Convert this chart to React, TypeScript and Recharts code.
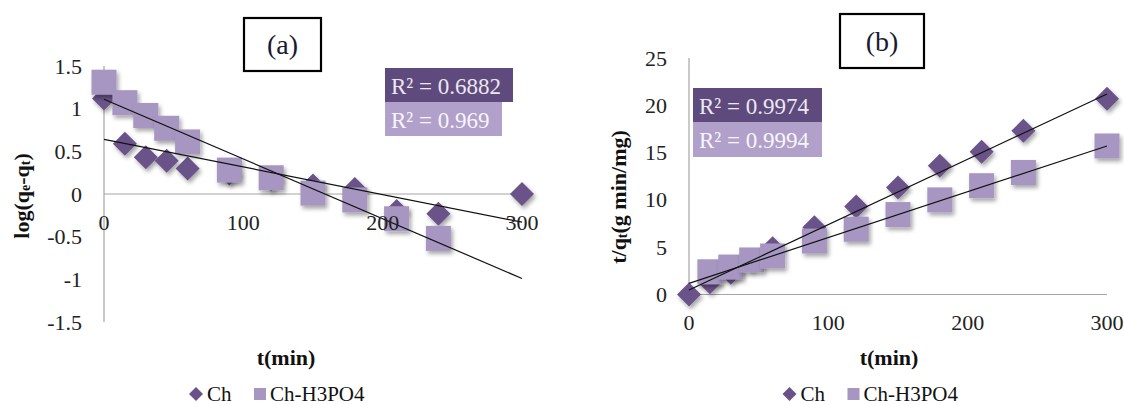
import React from 'react';
import { ScatterChart, Scatter, XAxis, YAxis, ReferenceLine } from 'recharts';

// ---- data ----
const timesCh = [0, 15, 30, 45, 60, 90, 120, 150, 180, 210, 240, 300];
const timesLogH3 = [0, 15, 30, 45, 60, 90, 120, 150, 180, 210, 240];
const timesRateH3 = [15, 30, 45, 60, 90, 120, 150, 180, 210, 240, 300];

// pseudo-first-order: log(qe - qt)
const logCh = [1.12, 0.59, 0.43, 0.39, 0.3, 0.24, 0.17, 0.1, 0.06, -0.2, -0.23, 0.0];
const logH3 = [1.31, 1.07, 0.92, 0.77, 0.61, 0.28, 0.19, 0.01, -0.07, -0.29, -0.52];

// pseudo-second-order: t/qt
const rateCh = [0, 1.3, 2.3, 3.6, 4.9, 7.1, 9.3, 11.3, 13.6, 15.1, 17.3, 20.7];
const rateH3 = [2.4, 2.9, 3.65, 4.07, 5.65, 6.9, 8.45, 10.0, 11.5, 12.9, 15.7];

// linear trendline end points
const trendLogCh = [{ t: 0, v: 0.64 }, { t: 300, v: -0.33 }];
const trendLogH3 = [{ t: 0, v: 1.11 }, { t: 300, v: -0.99 }];
const trendRateCh = [{ t: 0, v: 0.48 }, { t: 300, v: 21.2 }];
const trendRateH3 = [{ t: 0, v: 1.18 }, { t: 300, v: 15.7 }];

const xTicks = [0, 100, 200, 300];
const logTicks = [-1.5, -1, -0.5, 0, 0.5, 1, 1.5];
const rateTicks = [0, 5, 10, 15, 20, 25];

const seriesNames = ['Ch', 'Ch-H3PO4'];
const r2Log = ['0.6882', '0.969'];
const r2Rate = ['0.9974', '0.9994'];
const panelTitles = ['(a)', '(b)'];

// ---- styles ----
const CH_COLOR = '#6a5289';
const H3_COLOR = '#a696c1';
const BOX_DARK = '#5f4a7d';
const BOX_LIGHT = '#b1a0c9';
const AXIS = '#a6a6a6';
const FONT = '"Liberation Serif", "Times New Roman", serif';
const TICK_FS = 22;

const toPts = (ts: number[], vs: number[]) => ts.map((t, i) => ({ t, v: vs[i] }));

const diamondShape = (p: any) => {
  const { cx, cy } = p;
  const r = 12;
  return (
    <polygon
      points={`${cx},${cy - r} ${cx + r},${cy} ${cx},${cy + r} ${cx - r},${cy}`}
      fill={CH_COLOR}
      filter="url(#mkShadow)"
    />
  );
};

const squareShape = (p: any) => {
  const { cx, cy } = p;
  const h = 12.5;
  return <rect x={cx - h} y={cy - h} width={2 * h} height={2 * h} fill={H3_COLOR} filter="url(#mkShadow)" />;
};

const noShape = () => <g />;

const yTick = (p: any) => (
  <text x={p.x - 22} y={p.y} textAnchor="end" dominantBaseline="central" fontFamily={FONT} fontSize={TICK_FS} fill="#222">
    {p.payload.value}
  </text>
);

// plot area geometry
const A = { top: 66, height: 256, left: 104, right: 522 };
const B = { top: 58, height: 236.5, left: 129, right: 547 };

// the (a) x labels sit just below the y = 0 line (middle of the symmetric domain)
const logXTick = (p: any) => (
  <text x={p.x} y={p.y - A.height / 2 + 28} textAnchor="middle" dominantBaseline="central" fontFamily={FONT} fontSize={TICK_FS} fill="#222">
    {p.payload.value}
  </text>
);

const rateXTick = (p: any) => (
  <text x={p.x} y={p.y + 27.5} textAnchor="middle" dominantBaseline="central" fontFamily={FONT} fontSize={TICK_FS} fill="#222">
    {p.payload.value}
  </text>
);

function LogChart() {
  return (
    <ScatterChart
      width={560}
      height={405}
      margin={{ top: A.top, right: 560 - A.right, bottom: 405 - A.top - A.height - 30, left: 0 }}
    >
      <XAxis
        type="number"
        dataKey="t"
        domain={[0, 300]}
        ticks={xTicks}
        interval={0}
        height={30}
        axisLine={false}
        tickLine={false}
        tickSize={0}
        tickMargin={0}
        tick={logXTick}
      />
      <YAxis
        type="number"
        dataKey="v"
        domain={[-1.5, 1.5]}
        ticks={logTicks}
        interval={0}
        width={A.left}
        axisLine={{ stroke: AXIS, strokeWidth: 1.2 }}
        tickLine={false}
        tickSize={0}
        tickMargin={0}
        tick={yTick}
      />
      <ReferenceLine y={0} stroke={AXIS} strokeWidth={1.2} />
      <Scatter name={seriesNames[0]} data={toPts(timesCh, logCh)} shape={diamondShape} isAnimationActive={false} />
      <Scatter name={seriesNames[1]} data={toPts(timesLogH3, logH3)} shape={squareShape} isAnimationActive={false} />
      <Scatter data={trendLogCh} line={{ stroke: '#111', strokeWidth: 1.2 }} shape={noShape} isAnimationActive={false} />
      <Scatter data={trendLogH3} line={{ stroke: '#111', strokeWidth: 1.2 }} shape={noShape} isAnimationActive={false} />
    </ScatterChart>
  );
}

function RateChart() {
  return (
    <ScatterChart
      width={564}
      height={405}
      margin={{ top: B.top, right: 564 - B.right, bottom: 405 - B.top - B.height - 30, left: 0 }}
    >
      <XAxis
        type="number"
        dataKey="t"
        domain={[0, 300]}
        ticks={xTicks}
        interval={0}
        height={30}
        axisLine={{ stroke: AXIS, strokeWidth: 1.2 }}
        tickLine={false}
        tickSize={0}
        tickMargin={0}
        tick={rateXTick}
      />
      <YAxis
        type="number"
        dataKey="v"
        domain={[0, 25]}
        ticks={rateTicks}
        interval={0}
        width={B.left}
        axisLine={{ stroke: AXIS, strokeWidth: 1.2 }}
        tickLine={false}
        tickSize={0}
        tickMargin={0}
        tick={yTick}
      />
      <Scatter name={seriesNames[0]} data={toPts(timesCh, rateCh)} shape={diamondShape} isAnimationActive={false} />
      <Scatter name={seriesNames[1]} data={toPts(timesRateH3, rateH3)} shape={squareShape} isAnimationActive={false} />
      <Scatter data={trendRateCh} line={{ stroke: '#111', strokeWidth: 1.2 }} shape={noShape} isAnimationActive={false} />
      <Scatter data={trendRateH3} line={{ stroke: '#111', strokeWidth: 1.2 }} shape={noShape} isAnimationActive={false} />
    </ScatterChart>
  );
}

function R2Boxes({ x, y, w1, w2, h, values }: { x: number; y: number; w1: number; w2: number; h: number; values: string[] }) {
  return (
    <g fontFamily={FONT} fontSize={23}>
      <rect x={x} y={y} width={w1} height={h} fill={BOX_DARK} />
      <text x={x + 6} y={y + h / 2 + 1} dominantBaseline="central" fill="#ebe8f0">
        {`R² = ${values[0]}`}
      </text>
      <rect x={x} y={y + h} width={w2} height={h} fill={BOX_LIGHT} />
      <text x={x + 6} y={y + h * 1.5 + 1} dominantBaseline="central" fill="#f7f5fa">
        {`R² = ${values[1]}`}
      </text>
    </g>
  );
}

function TitleBox({ x, y, w, h, label }: { x: number; y: number; w: number; h: number; label: string }) {
  return (
    <g>
      <rect x={x} y={y} width={w} height={h} fill="#fff" stroke="#000" strokeWidth={2.2} />
      <text x={x + w / 2} y={y + h / 2} textAnchor="middle" dominantBaseline="central" fontFamily={FONT} fontSize={28} fill="#1a1a30">
        {label}
      </text>
    </g>
  );
}

function LegendRow({ x, y }: { x: number; y: number }) {
  const d = 7;
  return (
    <g fontFamily={FONT} fontSize={21} fill="#111">
      <polygon points={`${x},${y - d} ${x + d},${y} ${x},${y + d} ${x - d},${y}`} fill={CH_COLOR} />
      <text x={x + 11} y={y} dominantBaseline="central">{seriesNames[0]}</text>
      <rect x={x + 58} y={y - 6} width={12} height={12} fill={H3_COLOR} />
      <text x={x + 74} y={y} dominantBaseline="central">{seriesNames[1]}</text>
    </g>
  );
}

function Annotations() {
  return (
    <svg width={1124} height={405} style={{ position: 'absolute', left: 0, top: 0, pointerEvents: 'none' }}>
      <TitleBox x={244} y={18} w={77} h={53} label={panelTitles[0]} />
      <TitleBox x={840} y={14} w={84} h={54} label={panelTitles[1]} />
      <R2Boxes x={385} y={68} w1={128} w2={117} h={34} values={r2Log} />
      <R2Boxes x={693} y={88} w1={129} w2={129} h={34.5} values={r2Rate} />

      <g fontFamily={FONT} fontWeight="bold" fontSize={22} fill="#111">
        <text transform="translate(21,196) rotate(-90)" textAnchor="middle" dominantBaseline="central">
          log(q<tspan fontSize={14} dy={4}>e</tspan>
          <tspan dy={-4}>-q</tspan>
          <tspan fontSize={14} dy={4}>t</tspan>
          <tspan dy={-4}>)</tspan>
        </text>
        <text transform="translate(618,197) rotate(-90)" textAnchor="middle" dominantBaseline="central">
          t/q<tspan fontSize={14} dy={4}>t</tspan>
          <tspan dy={-4}>(g min/mg)</tspan>
        </text>
        <text x={286} y={357} textAnchor="middle" dominantBaseline="central">t(min)</text>
        <text x={889} y={357} textAnchor="middle" dominantBaseline="central">t(min)</text>
      </g>

      <LegendRow x={196} y={394} />
      <LegendRow x={789.5} y={394} />
    </svg>
  );
}

export default function App() {
  return (
    <div style={{ position: 'absolute', left: 0, top: 0, width: 1124, height: 405, background: '#fff', overflow: 'hidden' }}>
      <svg width={0} height={0} style={{ position: 'absolute' }}>
        <defs>
          <filter id="mkShadow" x="-50%" y="-50%" width="200%" height="200%">
            <feDropShadow dx={2} dy={3} stdDeviation={2} floodColor="#000" floodOpacity={0.35} />
          </filter>
        </defs>
      </svg>
      <div style={{ position: 'absolute', left: 0, top: 0 }}>
        <LogChart />
      </div>
      <div style={{ position: 'absolute', left: 560, top: 0 }}>
        <RateChart />
      </div>
      <Annotations />
    </div>
  );
}
